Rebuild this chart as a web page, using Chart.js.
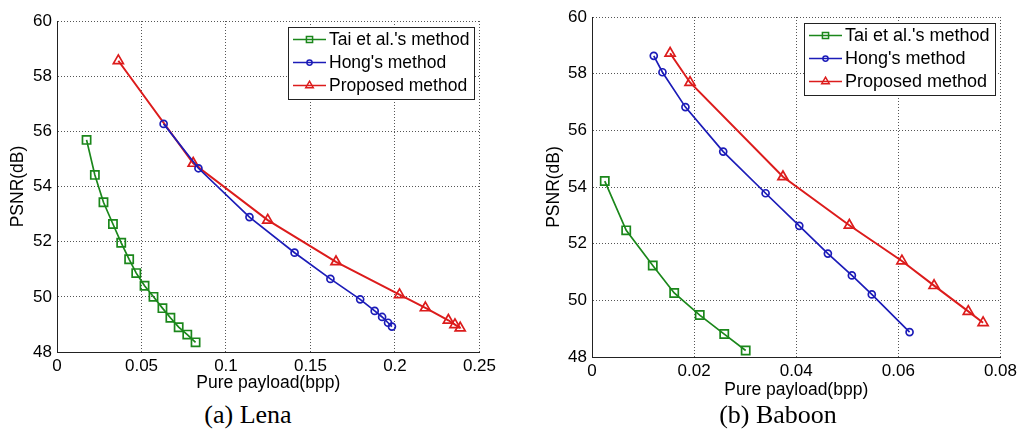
<!DOCTYPE html>
<html>
<head>
<meta charset="utf-8">
<title>PSNR vs pure payload</title>
<script src="https://cdn.jsdelivr.net/npm/chart.js"></script>
<style>
  html, body { margin: 0; padding: 0; background: #fff; }
  body { width: 1021px; height: 430px; position: relative; overflow: hidden; }
  #lenaWrap { position: absolute; left: 0; top: 0; width: 500px; height: 394px; }
  #baboonWrap { position: absolute; left: 520px; top: 0; width: 501px; height: 401px; }
  .caption {
    position: absolute; top: 400px; transform: translateX(-50%);
    font-family: 'Liberation Serif', 'Times New Roman', serif;
    font-size: 26px; line-height: 30px; white-space: nowrap; color: #000;
  }
</style>
</head>
<body>
<div id="lenaWrap"><canvas id="lenaChart" width="500" height="394"></canvas></div>
<div id="baboonWrap"><canvas id="baboonChart" width="501" height="401"></canvas></div>
<div class="caption" style="left:248px">(a) Lena</div>
<div class="caption" style="left:778px">(b) Baboon</div>
<script>
// Series names and colours (MATLAB-like)
const seriesNames = ["Tai et al.'s method", "Hong's method", "Proposed method"];
const seriesColors = ['#1b871b', '#1c1cb8', '#dc1c1c'];
const seriesMarkers = ['rect', 'circle', 'triangle'];
const markerRadius = [5.8, 3.5, 5.8];
const lineWidths = [1.7, 1.7, 2];

// (a) Lena
const lenaTaiX = [0.0175, 0.0224, 0.0275, 0.0331, 0.0380, 0.0427, 0.0469, 0.0518, 0.0571, 0.0624, 0.0671, 0.0720, 0.0771, 0.0820];
const lenaTaiY = [55.69, 54.42, 53.43, 52.64, 51.96, 51.36, 50.86, 50.40, 50.00, 49.59, 49.24, 48.90, 48.63, 48.35];
const lenaHongX = [0.0631, 0.0837, 0.1139, 0.1406, 0.1618, 0.1794, 0.1880, 0.1924, 0.1959, 0.1982];
const lenaHongY = [56.27, 54.66, 52.89, 51.60, 50.65, 49.91, 49.49, 49.27, 49.06, 48.92];
const lenaPropX = [0.0363, 0.0806, 0.1247, 0.1651, 0.2027, 0.2180, 0.2316, 0.2355, 0.2386];
const lenaPropY = [58.56, 54.84, 52.78, 51.27, 50.08, 49.60, 49.15, 48.99, 48.87];

// (b) Baboon
const baboonTaiX = [0.0025, 0.0067, 0.0119, 0.0161, 0.0211, 0.0259, 0.0301];
const baboonTaiY = [54.21, 52.47, 51.23, 50.26, 49.48, 48.81, 48.23];
const baboonHongX = [0.0121, 0.0138, 0.0183, 0.0257, 0.0340, 0.0406, 0.0462, 0.0509, 0.0548, 0.0622];
const baboonHongY = [58.63, 58.05, 56.82, 55.25, 53.78, 52.63, 51.65, 50.88, 50.21, 48.88];
const baboonPropX = [0.0153, 0.0192, 0.0374, 0.0504, 0.0607, 0.0670, 0.0737, 0.0766];
const baboonPropY = [58.72, 57.69, 54.36, 52.65, 51.39, 50.52, 49.61, 49.21];

// Tick labels
const lenaXTicks = [0, 0.05, 0.1, 0.15, 0.2, 0.25];
const baboonXTicks = [0, 0.02, 0.04, 0.06, 0.08];
const yTicks = [48, 50, 52, 54, 56, 58, 60];

const fontFamily = "'Liberation Sans', Arial, sans-serif";

function drawMarker(ctx, style, x, y, r) {
    ctx.beginPath();
    if (style === 'rect') {
        const s = Math.SQRT1_2 * r;
        ctx.rect(x - s, y - s, 2 * s, 2 * s);
    } else if (style === 'circle') {
        ctx.arc(x, y, r, 0, Math.PI * 2);
    } else {
        ctx.moveTo(x, y - r);
        ctx.lineTo(x + 0.866 * r, y + 0.5 * r);
        ctx.lineTo(x - 0.866 * r, y + 0.5 * r);
        ctx.closePath();
    }
    ctx.stroke();
}

// MATLAB style legend box: line sample with marker, then label
const matLegend = {
    id: 'matLegend',
    afterDatasetsDraw(chart, args, opts) {
        const ctx = chart.ctx;
        const area = chart.chartArea;
        ctx.save();
        ctx.font = opts.fontSize + 'px ' + fontFamily;
        const textW = Math.max(...chart.data.datasets.map(d => ctx.measureText(d.label).width));
        const w = Math.round(41 + textW + 5);
        const h = opts.rowH * 3 + 3;
        const bx = Math.round(area.right - 5 - w);
        const by = Math.round(area.top + 6);
        ctx.fillStyle = '#fff';
        ctx.fillRect(bx, by, w, h);
        ctx.strokeStyle = '#222';
        ctx.lineWidth = 1;
        ctx.strokeRect(bx + 0.5, by + 0.5, w, h);
        chart.data.datasets.forEach((d, i) => {
            const cy = by + 12.5 + i * opts.rowH;
            ctx.strokeStyle = d.borderColor;
            ctx.lineWidth = 1.5;
            ctx.beginPath();
            ctx.moveTo(bx + 5, cy);
            ctx.lineTo(bx + 38, cy);
            ctx.stroke();
            drawMarker(ctx, d.pointStyle, bx + 21.5, cy, d.pointRadius * 0.75);
            ctx.fillStyle = '#000';
            ctx.textBaseline = 'middle';
            ctx.textAlign = 'left';
            ctx.fillText(d.label, bx + 41, cy + 1);
        });
        ctx.restore();
    }
};

function makeDatasets(xs, ys) {
    return seriesNames.map((name, i) => ({
        label: name,
        data: xs[i].map((x, j) => ({ x: x, y: ys[i][j] })),
        showLine: true,
        borderColor: seriesColors[i],
        backgroundColor: 'rgba(0,0,0,0)',
        borderWidth: lineWidths[i],
        pointStyle: seriesMarkers[i],
        pointRadius: markerRadius[i],
        pointBorderWidth: 1.7,
        pointBorderColor: seriesColors[i],
        pointBackgroundColor: 'rgba(0,0,0,0)',
        tension: 0
    }));
}

function makeChart(id, xs, ys, xTicks, cfg) {
    const tickFont = { family: fontFamily, size: 17 };
    const titleFont = { family: fontFamily, size: 17.5 };
    return new Chart(document.getElementById(id).getContext('2d'), {
        type: 'scatter',
        data: { datasets: makeDatasets(xs, ys) },
        options: {
            responsive: false,
            animation: false,
            devicePixelRatio: 1,
            layout: { padding: { left: 0, top: cfg.top, right: cfg.right, bottom: 0 } },
            plugins: {
                legend: { display: false },
                tooltip: { enabled: false },
                matLegend: { fontSize: cfg.legendFont, rowH: 23 }
            },
            scales: {
                x: {
                    type: 'linear',
                    min: xTicks[0],
                    max: xTicks[xTicks.length - 1],
                    afterBuildTicks: axis => { axis.ticks = xTicks.map(v => ({ value: v })); },
                    afterFit: axis => { axis.height = cfg.xH; },
                    grid: { color: '#555', lineWidth: 1, drawTicks: false },
                    border: { display: true, color: '#222', width: 1, dash: [1, 2] },
                    ticks: { color: '#000', font: tickFont, padding: 4, maxRotation: 0, callback: v => String(v) },
                    title: { display: true, text: 'Pure payload(bpp)', color: '#000', font: titleFont, padding: 0 }
                },
                y: {
                    type: 'linear',
                    min: yTicks[0],
                    max: yTicks[yTicks.length - 1],
                    afterBuildTicks: axis => { axis.ticks = yTicks.map(v => ({ value: v })); },
                    afterFit: axis => { axis.width = cfg.yW; },
                    grid: { color: '#555', lineWidth: 1, drawTicks: false },
                    border: { display: true, color: '#222', width: 1, dash: [1, 2] },
                    ticks: { color: '#000', font: tickFont, padding: 5, callback: v => String(v) },
                    title: { display: true, text: 'PSNR(dB)', color: '#000', font: titleFont, padding: { top: cfg.yTitlePad, bottom: 0 } }
                }
            }
        },
        plugins: [matLegend]
    });
}

makeChart('lenaChart',
    [lenaTaiX, lenaHongX, lenaPropX],
    [lenaTaiY, lenaHongY, lenaPropY],
    lenaXTicks,
    { top: 21, right: 20, xH: 42, yW: 57, yTitlePad: 7.5, legendFont: 17.5 });

makeChart('baboonChart',
    [baboonTaiX, baboonHongX, baboonPropX],
    [baboonTaiY, baboonHongY, baboonPropY],
    baboonXTicks,
    { top: 17, right: 20, xH: 44, yW: 72, yTitlePad: 23.5, legendFont: 18 });
</script>
</body>
</html>
